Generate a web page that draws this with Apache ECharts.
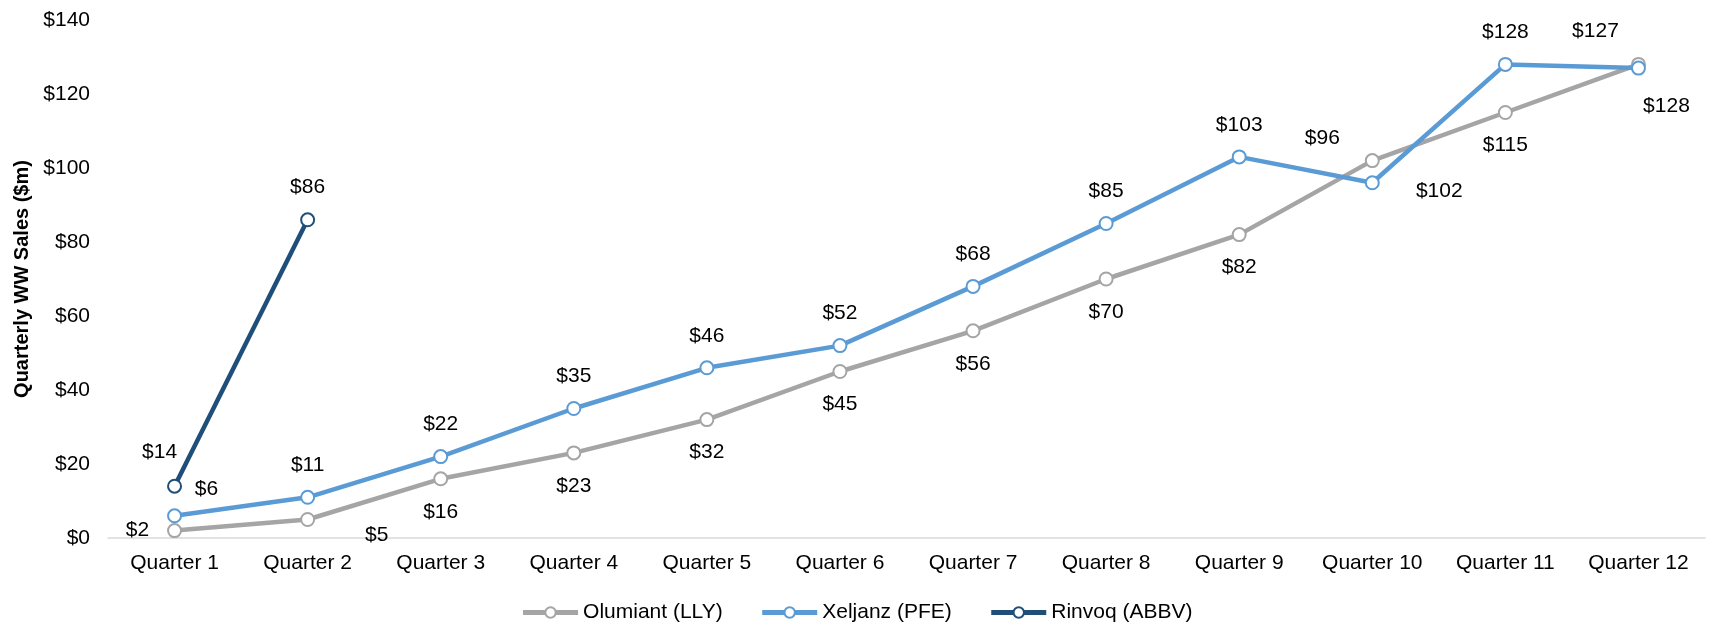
<!DOCTYPE html>
<html>
<head>
<meta charset="utf-8">
<script src="https://cdn.jsdelivr.net/npm/echarts@6/dist/echarts.min.js"></script>
<style>
html,body{margin:0;padding:0;background:#fff;}
#chart{width:1713px;height:623px;}
</style>
</head>
<body>
<div id="chart"></div>
<script>
const categories = ['Quarter 1','Quarter 2','Quarter 3','Quarter 4','Quarter 5','Quarter 6','Quarter 7','Quarter 8','Quarter 9','Quarter 10','Quarter 11','Quarter 12'];
const olumiant = [2, 5, 16, 23, 32, 45, 56, 70, 82, 102, 115, 128];
const xeljanz = [6, 11, 22, 35, 46, 52, 68, 85, 103, 96, 128, 127];
const rinvoq = [14, 86];
const seriesNames = ['Olumiant (LLY)', 'Xeljanz (PFE)', 'Rinvoq (ABBV)'];
const yTicks = {min: 0, max: 140, interval: 20};

// label placement (centre offsets from each point), separate from data
const defaultNudge = {olu: [0, 33], xel: [0, -32], rin: [0, -33]};
const specialNudge = {
  olu: {0: [-37, 0], 1: [69, 16], 9: [67, 31], 11: [28, 42]},
  xel: {0: [32, -27], 9: [-50, -45], 11: [-43, -37]},
  rin: {0: [-15, -34]}
};

const FONT = 'Liberation Sans, Arial, sans-serif';
const colors = {olu: '#A5A5A5', xel: '#5B9BD5', rin: '#1F4E79'};
const keys = ['olu', 'xel', 'rin'];

function buildData(values, key) {
  return values.map((v, i) => {
    const off = (specialNudge[key] && specialNudge[key][i]) || defaultNudge[key];
    return {value: v, label: {offset: off}};
  });
}

function makeSeries(name, values, key) {
  return {
    name: name,
    type: 'line',
    data: buildData(values, key),
    symbol: 'circle',
    symbolSize: 13,
    showAllSymbol: true,
    lineStyle: {color: colors[key], width: 4.5},
    itemStyle: {color: '#ffffff', borderColor: colors[key], borderWidth: 2},
    label: {
      show: true,
      position: 'inside',
      formatter: p => '$' + p.value,
      fontFamily: FONT,
      fontSize: 21,
      color: '#000'
    },
    emphasis: {disabled: true},
    animation: false
  };
}

const chart = echarts.init(document.getElementById('chart'), null, {renderer: 'canvas'});
chart.setOption({
  backgroundColor: '#ffffff',
  animation: false,
  grid: {left: 108, right: 8, top: 20, bottom: 85, containLabel: false},
  legend: {
    data: seriesNames.map((n, i) => ({
      name: n,
      itemStyle: {color: '#fff', borderColor: colors[keys[i]], borderWidth: 2},
      lineStyle: {color: colors[keys[i]], width: 5}
    })),
    left: 'center',
    top: 597,
    itemWidth: 55,
    itemHeight: 13,
    itemGap: 37,
    textStyle: {fontFamily: FONT, fontSize: 21, color: '#000'}
  },
  xAxis: {
    type: 'category',
    data: categories,
    boundaryGap: true,
    axisLine: {show: true, lineStyle: {color: '#D9D9D9', width: 1.5}},
    axisTick: {show: false},
    axisLabel: {fontFamily: FONT, fontSize: 21, color: '#000', margin: 15, interval: 0},
    splitLine: {show: false}
  },
  yAxis: {
    type: 'value',
    min: yTicks.min,
    max: yTicks.max,
    interval: yTicks.interval,
    name: 'Quarterly WW Sales ($m)',
    nameLocation: 'middle',
    nameGap: 76,
    nameTextStyle: {fontFamily: FONT, fontSize: 20, fontWeight: 'bold', color: '#000'},
    axisLine: {show: false},
    axisTick: {show: false},
    splitLine: {show: false},
    axisLabel: {fontFamily: FONT, fontSize: 21, color: '#000', margin: 18, formatter: v => '$' + v}
  },
  series: [
    makeSeries(seriesNames[0], olumiant, 'olu'),
    makeSeries(seriesNames[1], xeljanz, 'xel'),
    makeSeries(seriesNames[2], rinvoq, 'rin')
  ]
});
</script>
</body>
</html>
